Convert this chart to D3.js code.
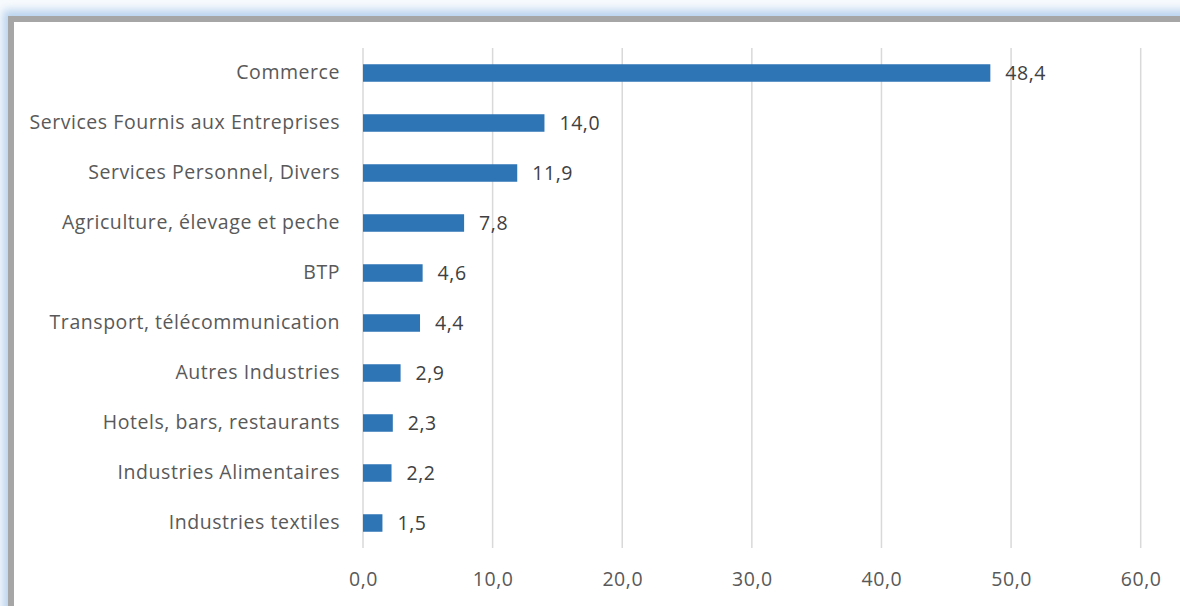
<!DOCTYPE html>
<html>
<head>
<meta charset="utf-8">
<script src="https://cdn.jsdelivr.net/npm/d3@7/dist/d3.min.js"></script>
<style>
  html, body { margin: 0; padding: 0; background: #ffffff; }
  svg { display: block; }
</style>
</head>
<body>
<svg id="chart" width="1180" height="606"></svg>
<script>
// Sector shares (%), listed top to bottom
const categories = [
  "Commerce",
  "Services Fournis aux Entreprises",
  "Services Personnel, Divers",
  "Agriculture, élevage et peche",
  "BTP",
  "Transport, télécommunication",
  "Autres Industries",
  "Hotels, bars, restaurants",
  "Industries Alimentaires",
  "Industries textiles"
];
const values = [48.4, 14.0, 11.9, 7.8, 4.6, 4.4, 2.9, 2.3, 2.2, 1.5];
const xTicks = [0, 10, 20, 30, 40, 50, 60];

const fmt = v => v.toFixed(1).replace(".", ",");
const FONT = "'Open Sans', sans-serif";
const FONT_SIZE = "19.5px";
const SPACING = "0.55px";

const svg = d3.select("#chart");

// Soft blue glow around the framed panel
const defs = svg.append("defs");
const glow = defs.append("filter").attr("id", "glow")
  .attr("x", "-5%").attr("y", "-10%").attr("width", "110%").attr("height", "120%");
glow.append("feGaussianBlur").attr("stdDeviation", 4);

svg.append("rect").attr("width", 1180).attr("height", 606).attr("fill", "#f7fafd");
svg.append("rect")
  .attr("x", 3).attr("y", 10).attr("width", 1200).attr("height", 620)
  .attr("fill", "#b9d3ee").attr("filter", "url(#glow)");

// Gray frame with white panel
svg.append("rect")
  .attr("x", 8).attr("y", 16).attr("width", 1200).attr("height", 620)
  .attr("fill", "#a6a6a6");
svg.append("rect")
  .attr("x", 14).attr("y", 22).attr("width", 1200).attr("height", 620)
  .attr("fill", "#ffffff");

const x = d3.scaleLinear().domain([0, 60]).range([363, 1140.7]);
const y = d3.scaleBand().domain(categories).range([48, 548])
  .paddingInner(0.65).paddingOuter(0.325);

// Vertical gridlines
svg.append("g").selectAll("line").data(xTicks).join("line")
  .attr("x1", d => x(d)).attr("x2", d => x(d))
  .attr("y1", 48).attr("y2", 548)
  .attr("stroke", "#d9d9d9").attr("stroke-width", 1.5);

// Bottom tick labels
const xAxis = d3.axisBottom(x).tickValues(xTicks).tickFormat(fmt).tickSize(0).tickPadding(0);
const gx = svg.append("g").attr("transform", "translate(0,586)").call(xAxis);
gx.select(".domain").remove();
gx.selectAll("text")
  .attr("dy", "0")
  .attr("fill", "#595959")
  .style("font-family", FONT).style("font-size", FONT_SIZE).style("letter-spacing", SPACING);

// Category labels
const yAxis = d3.axisLeft(y).tickSize(0).tickPadding(0);
const gy = svg.append("g").attr("transform", "translate(340,0)").call(yAxis);
gy.select(".domain").remove();
gy.selectAll("text")
  .attr("fill", "#595959")
  .style("font-family", FONT).style("font-size", FONT_SIZE).style("letter-spacing", SPACING);

// Bars
svg.append("g").selectAll("rect").data(values).join("rect")
  .attr("x", x(0))
  .attr("y", (d, i) => y(categories[i]))
  .attr("width", d => x(d) - x(0))
  .attr("height", y.bandwidth())
  .attr("fill", "#2e75b6");

// Value labels
svg.append("g").selectAll("text").data(values).join("text")
  .attr("x", d => x(d) + 15)
  .attr("y", (d, i) => y(categories[i]) + y.bandwidth() / 2)
  .attr("dy", "0.35em")
  .attr("fill", "#404040")
  .style("font-family", FONT).style("font-size", FONT_SIZE).style("letter-spacing", SPACING)
  .text(fmt);
</script>
</body>
</html>
